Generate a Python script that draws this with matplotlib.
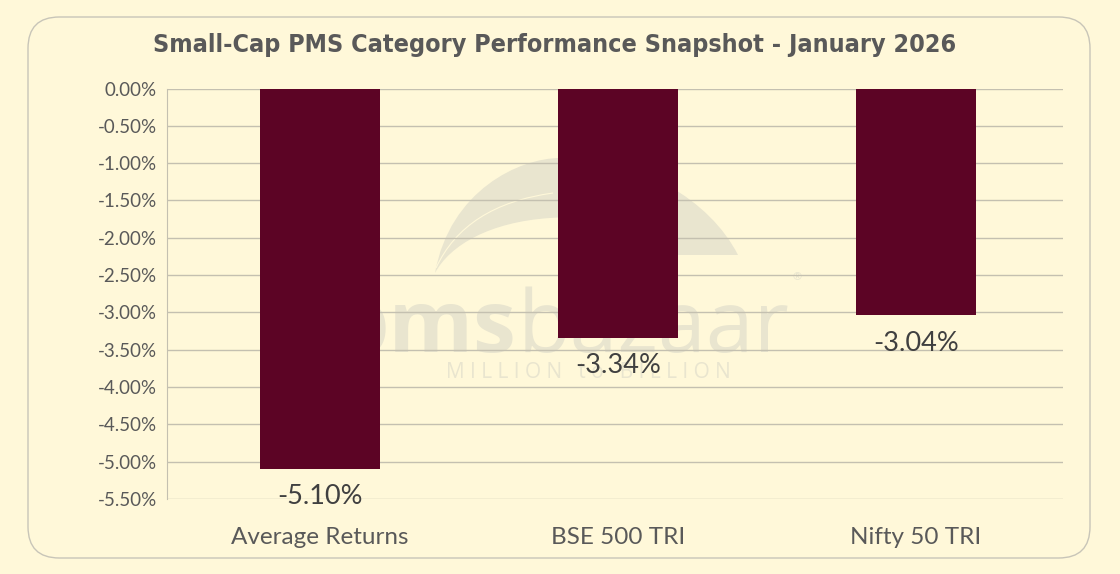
import matplotlib
matplotlib.use("Agg")
import matplotlib.pyplot as plt
import numpy as np
from matplotlib.patches import FancyBboxPatch, PathPatch
from matplotlib.path import Path
from matplotlib.ticker import FuncFormatter, MultipleLocator

categories = ["Average Returns", "BSE 500 TRI", "Nifty 50 TRI"]
returns_pct = [-5.10, -3.34, -3.04]
value_labels = ["-5.10%", "-3.34%", "-3.04%"]
title = "Small-Cap PMS Category Performance Snapshot - January 2026"

BG = "#FFF8D9"
BAR = "#5C0425"
GRID = "#C4C0B0"
TXT = "#595959"
WM = "#E9E5CF"

W, H = 1120, 574
fig = plt.figure(figsize=(W / 100, H / 100), dpi=100)
fig.patch.set_facecolor(BG)

def fx(x):
    return x / W

def fy(y):
    return 1 - y / H

# rounded border
border = FancyBboxPatch((fx(28), fy(558)), fx(1090) - fx(28), fy(17) - fy(558),
                        boxstyle="round,pad=0,rounding_size=0.028",
                        transform=fig.transFigure, facecolor=BG, edgecolor="#C8C5B8",
                        linewidth=1.0, zorder=0, mutation_aspect=W / H)
fig.patches.append(border)

# watermark crescent (logo)
verts = [(435, 273),
         (450, 190), (520, 158), (560, 158),
         (640, 158), (710, 200), (738, 255),
         (660, 255),
         (630, 225), (590, 215), (550, 218),
         (490, 222), (450, 245), (435, 273),
         (435, 273)]
codes = [Path.MOVETO,
         Path.CURVE4, Path.CURVE4, Path.CURVE4,
         Path.CURVE4, Path.CURVE4, Path.CURVE4,
         Path.LINETO,
         Path.CURVE4, Path.CURVE4, Path.CURVE4,
         Path.CURVE4, Path.CURVE4, Path.CURVE4,
         Path.CLOSEPOLY]
crescent = PathPatch(Path([(fx(a), fy(b)) for a, b in verts], codes), transform=fig.transFigure,
                     facecolor=WM, edgecolor="none", zorder=0.5)
fig.patches.append(crescent)
hv = [(436, 268), (465, 205), (553, 193)]
hl = PathPatch(Path([(fx(a), fy(b)) for a, b in hv], [Path.MOVETO, Path.CURVE3, Path.CURVE3]),
               transform=fig.transFigure, facecolor="none", edgecolor=BG, linewidth=0.8, zorder=0.6)
fig.patches.append(hl)

ax = fig.add_axes([fx(166.5), fy(499), fx(1063) - fx(166.5), fy(88.5) - fy(499)])
ax.set_facecolor("none")
ax.set_zorder(2)

fig.text(fx(516), fy(352), "pms", fontsize=62, fontweight="bold", color=WM,
         ha="right", va="baseline", family="Open Sans", zorder=1)
bz = fig.text(fx(518), fy(352), "bazaar", fontsize=62, color=WM,
              ha="left", va="baseline", family="Open Sans", zorder=1)
fig.canvas.draw()
bb = bz.get_window_extent()
fig.text((bb.x1 + 3) / W, fy(278), "®", fontsize=8, color=WM,
         ha="left", va="center", family="Open Sans", zorder=1)
fig.text(fx(588), fy(373), "M I L L I O N   t o   B I L L I O N", fontsize=15, color=WM,
         ha="center", va="center", family="Open Sans", zorder=1)

x = np.arange(len(categories))
ax.bar(x, returns_pct, width=0.40, color=BAR, zorder=3)

for xi, v, lab in zip(x, returns_pct, value_labels):
    ax.annotate(lab, (xi, v), xytext=(0, -20), textcoords="offset points",
                ha="center", va="center", fontsize=19.5, color="#404040", family="Lato", zorder=4)

ax.set_xlim(-0.515, len(categories) - 0.507)
ax.set_ylim(-5.5, 0)
ax.yaxis.set_major_locator(MultipleLocator(0.5))
ax.yaxis.set_major_formatter(FuncFormatter(lambda v, p: f"{v:.2f}%"))
ax.grid(axis="y", color=GRID, linewidth=1.0, zorder=0)
ax.set_axisbelow(True)
for s in ["top", "right", "bottom"]:
    ax.spines[s].set_visible(False)
ax.spines["left"].set_color(GRID)
ax.tick_params(axis="y", length=0, pad=7, labelsize=13.5, labelcolor=TXT)
ax.tick_params(axis="x", length=0)
ax.set_xticks(x)
ax.set_xticklabels([])
for lab in ax.get_yticklabels():
    lab.set_family("Lato")

for xi, c in zip(x, categories):
    ax.text(xi, -0.095, c, transform=ax.get_xaxis_transform(), ha="center", va="center",
            fontsize=17.5, color=TXT, family="Lato")

fig.text(fx(555), fy(45), title, ha="center", va="center", fontsize=18, fontweight="bold",
         fontstretch="condensed", color=TXT, family=["DejaVu Sans"])

fig.savefig("out.png", dpi=100, facecolor=BG)
